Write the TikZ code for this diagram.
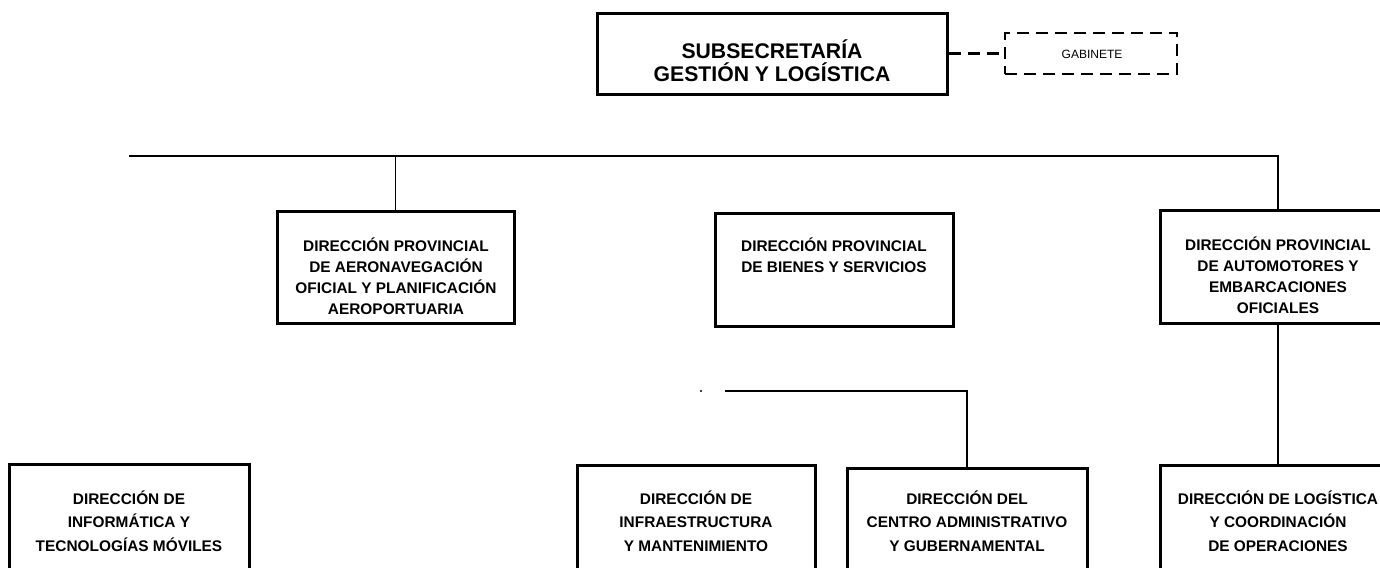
\documentclass[tikz,border=0pt]{standalone}
\usepackage{fontspec}
\setmainfont{Liberation Sans}
\begin{document}
\begin{tikzpicture}[x=0.5pt,y=-0.5pt,
  box/.style={draw, line width=1.5pt, inner sep=0pt},
  gabbox/.style={draw, line width=1.2pt, dash pattern=on 6pt off 3.5pt, inner sep=0pt},
  conn/.style={line width=0.65pt},
  dconn/.style={line width=1.2pt, dash pattern=on 6pt off 3.5pt},
  toptxt/.style={align=center, inner sep=0pt, font=\bfseries\fontsize{10.6}{11.5}\selectfont},
  rowa/.style={align=center, inner sep=0pt, font=\bfseries\fontsize{7.7}{10.5}\selectfont},
  rowb/.style={align=center, inner sep=0pt, font=\bfseries\fontsize{7.7}{11.8}\selectfont},
  gabtxt/.style={inner sep=0pt, font=\fontsize{6}{7}\selectfont}]
\clip (0,0) rectangle (1380,567);
\fill[white] (0,0) rectangle (1380,567);

% boxes
\node[box, minimum width=175pt, minimum height=40.5pt] (sub) at (772,54.5) {};
\node[gabbox, minimum width=86pt, minimum height=20.5pt] (gab) at (1091,53.5) {};
\node[box, minimum width=118.5pt, minimum height=56pt] (aero) at (395.5,267) {};
\node[box, minimum width=119pt, minimum height=56.5pt] (bienes) at (834,269.5) {};
\node[box, minimum width=118pt, minimum height=56.5pt] (auto) at (1278,266.5) {};
\node[box, minimum width=120pt, minimum height=68pt] (inform) at (129,532) {};
\node[box, minimum width=119pt, minimum height=67.5pt] (infra) at (696,532.5) {};
\node[box, minimum width=120pt, minimum height=66pt] (centro) at (967,534) {};
\node[box, minimum width=118pt, minimum height=67.5pt] (log) at (1278,532.5) {};

% texts
\node[toptxt] (sub-t) at (772,61) {SUBSECRETARÍA\\GESTIÓN Y LOGÍSTICA};
\node[gabtxt] (gab-t) at (1092,54) {GABINETE};
\node[rowa] (aero-t) at (396,276) {DIRECCIÓN PROVINCIAL\\DE AERONAVEGACIÓN\\OFICIAL Y PLANIFICACIÓN\\AEROPORTUARIA};
\node[rowa] (bienes-t) at (834,255) {DIRECCIÓN PROVINCIAL\\DE BIENES Y SERVICIOS};
\node[rowa] (auto-t) at (1278,275.5) {DIRECCIÓN PROVINCIAL\\DE AUTOMOTORES Y\\EMBARCACIONES\\OFICIALES};
\node[rowb] (inform-t) at (129,521) {DIRECCIÓN DE\\INFORMÁTICA Y\\TECNOLOGÍAS MÓVILES};
\node[rowb] (infra-t) at (696,521) {DIRECCIÓN DE\\INFRAESTRUCTURA\\Y MANTENIMIENTO};
\node[rowb] (centro-t) at (967,521) {DIRECCIÓN DEL\\CENTRO ADMINISTRATIVO\\Y GUBERNAMENTAL};
\node[rowb] (log-t) at (1278,521) {DIRECCIÓN DE LOGÍSTICA\\Y COORDINACIÓN\\DE OPERACIONES};

% connectors
\coordinate (hl) at (129,156);
\coordinate (ml) at (725,391);
\coordinate (dot) at (701,391);
\draw[dconn] (sub.east |- gab.west) -- (gab.west);
\draw[conn] (hl) -- (auto.north |- hl) -- (auto.north);
\draw[conn] (aero.north |- hl) -- (aero.north);
\draw[conn] (ml) -- (centro.north |- ml) -- (centro.north);
\draw[conn] (auto.south) -- (log.north);
\fill (dot) circle (1.2);
\end{tikzpicture}
\end{document}
